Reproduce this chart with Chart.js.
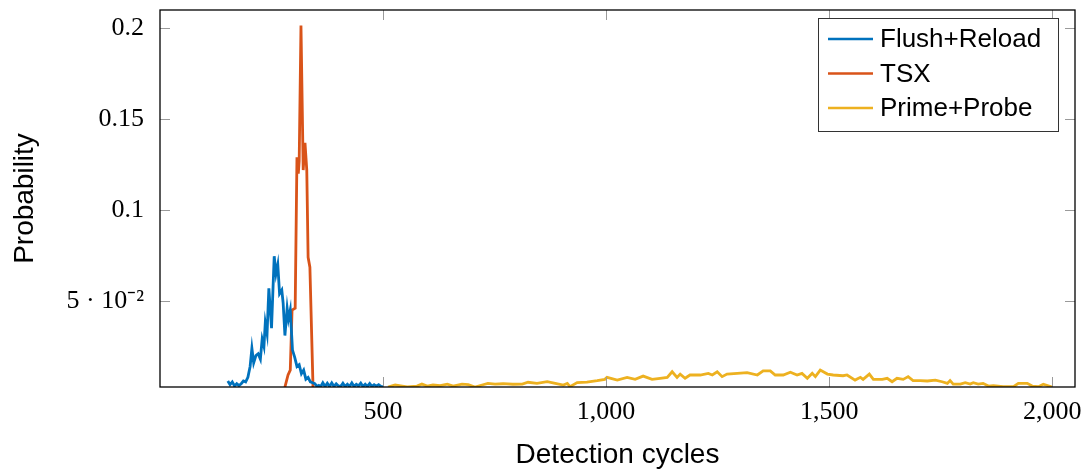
<!DOCTYPE html>
<html>
<head>
<meta charset="utf-8">
<script src="https://cdn.jsdelivr.net/npm/chart.js@4.4.0/dist/chart.umd.min.js"></script>
<style>
    body { margin: 0; background: #fff; }
</style>
</head>
<body>
<canvas id="chart" width="1084" height="472"></canvas>
<script>
// values
const flushCycles = [152, 157, 162, 167, 172, 177, 182, 187, 192, 197, 202, 206, 210, 215, 220, 225, 229, 233, 236, 240, 244, 250, 256, 260, 264, 268, 273, 276, 280, 285, 288, 292, 297, 302, 307, 312, 317, 322, 327, 332, 337, 342, 347, 352, 356, 360, 365, 370, 375, 380, 385, 390, 395, 400, 405, 410, 415, 420, 425, 430, 435, 440, 445, 450, 455, 460, 465, 470, 475, 480, 485, 490, 495, 500];
const flushProb = [0.0060, 0.0040, 0.0055, 0.0033, 0.0045, 0.0035, 0.0045, 0.0060, 0.0055, 0.0080, 0.0140, 0.0240, 0.0160, 0.0200, 0.0210, 0.0180, 0.0290, 0.0250, 0.0380, 0.0320, 0.0570, 0.0350, 0.0746, 0.0650, 0.0700, 0.0540, 0.0560, 0.0490, 0.0310, 0.0460, 0.0400, 0.0450, 0.0230, 0.0190, 0.0140, 0.0150, 0.0100, 0.0120, 0.0070, 0.0080, 0.0055, 0.0050, 0.0045, 0.0030, 0.0036, 0.0029, 0.0050, 0.0030, 0.0048, 0.0030, 0.0050, 0.0030, 0.0045, 0.0033, 0.0030, 0.0048, 0.0030, 0.0042, 0.0030, 0.0050, 0.0030, 0.0042, 0.0033, 0.0048, 0.0030, 0.0042, 0.0030, 0.0046, 0.0030, 0.0040, 0.0032, 0.0040, 0.0030, 0.0028];

const tsxCycles = [280, 287, 292, 296, 303, 307, 310, 312, 316, 321, 325, 329, 332, 336, 343];
const tsxProb = [0.0027, 0.0093, 0.012, 0.045, 0.046, 0.129, 0.120, 0.127, 0.2014, 0.122, 0.137, 0.122, 0.074, 0.0686, 0.0027];

const primeCycles = [511, 527, 543, 554, 576, 587, 599, 612, 628, 644, 657, 677, 691, 706, 722, 735, 751, 769, 791, 812, 825, 845, 868, 886, 904, 913, 919, 935, 957, 980, 997, 1002, 1025, 1047, 1065, 1083, 1103, 1121, 1137, 1148, 1159, 1166, 1177, 1188, 1211, 1229, 1238, 1249, 1260, 1271, 1294, 1316, 1339, 1352, 1368, 1379, 1397, 1413, 1428, 1439, 1451, 1462, 1469, 1480, 1496, 1509, 1531, 1540, 1558, 1570, 1576, 1590, 1599, 1619, 1630, 1641, 1652, 1666, 1677, 1688, 1704, 1720, 1738, 1753, 1765, 1771, 1778, 1794, 1805, 1816, 1823, 1834, 1845, 1857, 1868, 1890, 1913, 1924, 1944, 1955, 1969, 1980, 1991, 2000];
const primeProb = [0.0027, 0.0038, 0.0032, 0.0027, 0.0032, 0.0043, 0.0032, 0.0038, 0.0034, 0.0043, 0.0032, 0.0043, 0.0040, 0.0027, 0.0038, 0.0047, 0.0043, 0.0045, 0.0042, 0.0043, 0.0053, 0.0047, 0.0056, 0.0047, 0.0038, 0.0047, 0.0029, 0.0051, 0.0054, 0.0062, 0.0069, 0.0080, 0.0065, 0.0080, 0.0069, 0.0087, 0.0069, 0.0075, 0.0080, 0.0111, 0.0080, 0.0098, 0.0075, 0.0093, 0.0093, 0.0102, 0.0093, 0.0111, 0.0084, 0.0098, 0.0102, 0.0106, 0.0093, 0.0116, 0.0116, 0.0093, 0.0093, 0.0108, 0.0093, 0.0102, 0.0075, 0.0102, 0.0084, 0.0120, 0.0098, 0.0093, 0.0089, 0.0093, 0.0065, 0.0080, 0.0069, 0.0098, 0.0069, 0.0069, 0.0075, 0.0056, 0.0075, 0.0069, 0.0084, 0.0062, 0.0062, 0.0060, 0.0065, 0.0056, 0.0047, 0.0062, 0.0043, 0.0043, 0.0051, 0.0043, 0.0051, 0.0043, 0.0047, 0.0032, 0.0034, 0.0029, 0.0029, 0.0047, 0.0047, 0.0032, 0.0029, 0.0042, 0.0034, 0.0027];

const seriesNames = ["Flush+Reload", "TSX", "Prime+Probe"];
const seriesColors = ["#0072BD", "#D95319", "#EDB120"];

const xTicks = [500, 1000, 1500, 2000];
const xTickLabels = ["500", "1,000", "1,500", "2,000"];
const yTicks = [0.05, 0.1, 0.15, 0.2];
const yTickLabels = ["5 \u00b7 10\u207b\u00b2", "0.1", "0.15", "0.2"];

function toPoints(xs, ys) {
    return xs.map((x, i) => ({ x: x, y: ys[i] }));
}

// frame with pgfplots style inner ticks on all four sides
const framePlugin = {
    id: "frame",
    afterDatasetsDraw(chart) {
        const { ctx, chartArea: a, scales } = chart;
        ctx.save();
        ctx.strokeStyle = "#9a9a9a";
        ctx.lineWidth = 1;
        ctx.beginPath();
        for (const v of xTicks) {
            const px = Math.round(scales.x.getPixelForValue(v)) + 0.5;
            ctx.moveTo(px, a.bottom); ctx.lineTo(px, a.bottom - 10);
            ctx.moveTo(px, a.top); ctx.lineTo(px, a.top + 10);
        }
        for (const v of yTicks) {
            const py = Math.round(scales.y.getPixelForValue(v)) + 0.5;
            ctx.moveTo(a.left, py); ctx.lineTo(a.left + 10, py);
            ctx.moveTo(a.right, py); ctx.lineTo(a.right - 10, py);
        }
        ctx.stroke();
        ctx.strokeStyle = "#000";
        ctx.lineWidth = 1.3;
        ctx.strokeRect(a.left, a.top, a.right - a.left, a.bottom - a.top);
        ctx.restore();
    },
    afterDraw(chart) {
        const ctx = chart.ctx;
        const box = { x: 818, y: 18, w: 240, h: 113 };
        ctx.save();
        ctx.fillStyle = "#fff";
        ctx.fillRect(box.x, box.y, box.w, box.h);
        ctx.strokeStyle = "#333";
        ctx.lineWidth = 1;
        ctx.strokeRect(box.x + 0.5, box.y + 0.5, box.w, box.h);
        ctx.font = "26px 'Liberation Sans', Arial, sans-serif";
        ctx.textBaseline = "middle";
        chart.data.datasets.forEach((ds, i) => {
            const y = box.y + 21 + i * 34.5;
            ctx.strokeStyle = ds.borderColor;
            ctx.lineWidth = 2.5;
            ctx.beginPath();
            ctx.moveTo(828, y);
            ctx.lineTo(873, y);
            ctx.stroke();
            ctx.fillStyle = "#000";
            ctx.fillText(ds.label, 880, y + 1);
        });
        ctx.restore();
    }
};

function renderChart() {
    const ctx = document.getElementById("chart").getContext("2d");
    const allX = [flushCycles, tsxCycles, primeCycles];
    const allY = [flushProb, tsxProb, primeProb];
    new Chart(ctx, {
        type: "line",
        data: {
            datasets: seriesNames.map((name, i) => ({
                label: name,
                data: toPoints(allX[i], allY[i]),
                borderColor: seriesColors[i],
                backgroundColor: seriesColors[i],
                borderWidth: 2.8,
                pointRadius: 0,
                tension: 0,
                fill: false
            }))
        },
        options: {
            responsive: false,
            animation: false,
            layout: { padding: { top: 10, right: 9, left: 0, bottom: 0 } },
            plugins: {
                legend: { display: false },
                tooltip: { enabled: false }
            },
            scales: {
                x: {
                    type: "linear",
                    min: 0,
                    max: 2051,
                    grid: { display: false },
                    border: { display: false },
                    afterBuildTicks: (scale) => { scale.ticks = xTicks.map(v => ({ value: v })); },
                    afterFit: (scale) => { scale.height = 85; scale.paddingLeft = 0; scale.paddingRight = 0; },
                    ticks: {
                        autoSkip: false,
                        maxRotation: 0,
                        padding: 2,
                        color: "#000",
                        font: { family: "'Liberation Serif', serif", size: 26 },
                        callback: (v) => xTickLabels[xTicks.indexOf(v)]
                    },
                    title: {
                        display: true,
                        text: "Detection cycles",
                        color: "#000",
                        font: { family: "'Liberation Sans', Arial, sans-serif", size: 28 },
                        padding: { top: 0, bottom: 0 }
                    }
                },
                y: {
                    type: "linear",
                    min: 0.0027,
                    max: 0.21,
                    grid: { display: false },
                    border: { display: false },
                    afterBuildTicks: (scale) => { scale.ticks = yTicks.map(v => ({ value: v })); },
                    afterFit: (scale) => { scale.width = 160; scale.paddingTop = 0; scale.paddingBottom = 0; },
                    ticks: {
                        autoSkip: false,
                        padding: 8,
                        color: "#000",
                        font: { family: "'Liberation Serif', serif", size: 26 },
                        callback: (v) => yTickLabels[yTicks.indexOf(v)]
                    },
                    title: {
                        display: true,
                        text: "Probability",
                        color: "#000",
                        font: { family: "'Liberation Sans', Arial, sans-serif", size: 28 },
                        padding: { top: 8, bottom: 0 }
                    }
                }
            }
        },
        plugins: [framePlugin]
    });
}

document.addEventListener("DOMContentLoaded", function () {
    renderChart();
});
</script>
</body>
</html>
